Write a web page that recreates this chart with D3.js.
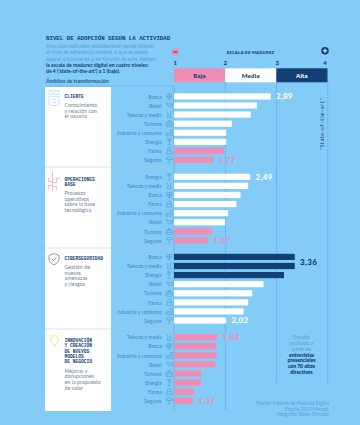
<!DOCTYPE html>
<html><head><meta charset="utf-8">
<script src="https://cdnjs.cloudflare.com/ajax/libs/d3/7.8.5/d3.min.js"></script>
<style>html,body{margin:0;padding:0;background:#82CCF7}svg{display:block}</style></head>
<body><div id="c"></div>
<script>
const clienteSectors=["Banca","Retail","Telecos y media","Turismo","Industria y consumo","Energía","Farma","Seguros"];
const clienteValues=[2.89,2.62,2.50,2.13,2.02,2.02,1.98,1.77];
const operacionesSectors=["Energía","Telecos y media","Banca","Farma","Industria y consumo","Retail","Turismo","Seguros"];
const operacionesValues=[2.49,2.45,2.30,2.22,2.06,2.00,1.74,1.67];
const cyberSectors=["Banca","Telecos y media","Energía","Retail","Turismo","Farma","Industria y consumo","Seguros"];
const cyberValues=[3.36,3.36,3.15,2.75,2.53,2.45,2.36,2.02];
const innovacionSectors=["Telecos y media","Banca","Industria y consumo","Retail","Turismo","Energía","Farma","Seguros"];
const innovacionValues=[1.84,1.83,1.83,1.81,1.54,1.53,1.40,1.37];
const scaleTicks=[1,2,3,4];
const bandNames=["Baja","Media","Alta"];
const blockTitles=[["CLIENTE"],["OPERACIONES","BASE"],["CIBERSEGURIDAD"],["INNOVACIÓN","Y CREACIÓN","DE NUEVOS","MODELOS","DE NEGOCIO"]];
const blockTexts=[["Conocimiento","y relación con","el usuario"],["Procesos","operativos","sobre la base","tecnológica"],["Gestión de","nuevas","amenazas","y riesgos"],["Mejoras y","disrupciones","en la propuesta","de valor"]];
const introLines=["Para cada indicador, establecieron desde Minsait","el nivel de adherencia mínimo al que se puede","aspirar actualmente y, en función de este, definen"];
const introBold=["la escala de madurez digital en cuatro niveles:","de 4 ('state-of-the-art') a 1 (bajo)."];
const studyLines=["Estudio","realizado a","partir de"];
const studyBold=["entrevistas","presenciales","con 70 altos","directivos"];
const sourceLines=["Fuente: Informe de Madurez Digital","España 2019 Minsait.","Infografía: Belén Trincado"];

const W=360,H=425,NAVY="#123F74",PINK="#F08DB4",WHITE="#FFFFFF",MID="#4A8FCB",LINE="#5DA8E0";
const SANS="Lato,'Open Sans',sans-serif",MONO="'Liberation Mono','DejaVu Sans Mono',monospace";
const svg=d3.select("#c").append("svg").attr("width",W).attr("height",H);
svg.append("rect").attr("width",W).attr("height",H).attr("fill","#82CCF7");
const x=d3.scaleLinear().domain([1,4]).range([174,327.5]);
const colorOf=v=>v>=3?NAVY:v>=2?WHITE:PINK;

function txt(g,s,xx,y,o={}){return g.append("text").attr("x",xx).attr("y",y).text(s)
 .attr("font-family",o.f||SANS).attr("font-size",o.s||5).attr("font-weight",o.w||400)
 .attr("fill",o.c||MID).attr("text-anchor",o.a||"start").attr("letter-spacing",o.l||0);}

// header
txt(svg,"NIVEL DE ADOPCIÓN SEGÚN LA ACTIVIDAD",46,39.5,{f:MONO,s:5.75,w:700,c:NAVY});
introLines.forEach((t,i)=>txt(svg,t,46,48+i*6.3,{s:5.1,c:"#5A9FD8"}));
introBold.forEach((t,i)=>txt(svg,t,46,66.9+i*6.3,{s:5.1,w:700,c:NAVY}));
txt(svg,"Ámbitos de transformación",46,82.6,{s:5.2,w:700,c:"#1F5A92"});

// scale head
svg.append("circle").attr("cx",175.3).attr("cy",52).attr("r",3.8).attr("fill",PINK);
svg.append("rect").attr("x",173.3).attr("y",51.5).attr("width",4).attr("height",1).attr("fill",NAVY);
svg.append("circle").attr("cx",325).attr("cy",50.8).attr("r",3.8).attr("fill",NAVY);
svg.append("path").attr("d","M322.8 50.8h4.4M325 48.6v4.4").attr("stroke","#fff").attr("stroke-width",1);
txt(svg,"ESCALA DE MADUREZ",250.5,53.8,{s:4.3,w:900,c:NAVY,a:"middle",l:0.15});
const tickShift=[1.3,0,1,-2.5];
scaleTicks.forEach((t,i)=>txt(svg,t,x(t)+tickShift[i],64.5,{s:6,w:900,c:NAVY,a:"middle"}));
const bandEdges=[1,2,3,4],bandFill=[PINK,WHITE,NAVY],bandText=[NAVY,NAVY,WHITE];
bandNames.forEach((n,i)=>{
 svg.append("rect").attr("x",x(bandEdges[i])).attr("y",68.3).attr("width",x(bandEdges[i+1])-x(bandEdges[i])).attr("height",14).attr("fill",bandFill[i]);
 txt(svg,n,(x(bandEdges[i])+x(bandEdges[i+1]))/2,77.7,{s:6,w:900,c:bandText[i],a:"middle",l:0.2});
});

// grid
[[2,82,410],[3,82,383],[4,82,383]].forEach(([v,a,b])=>svg.append("line").attr("x1",x(v)+.3).attr("x2",x(v)+.3).attr("y1",a).attr("y2",b).attr("stroke",LINE).attr("stroke-width",.6));
svg.append("line").attr("x1",174).attr("x2",174).attr("y1",87).attr("y2",410).attr("stroke",LINE).attr("stroke-width",.7);
svg.append("line").attr("x1",46).attr("x2",174).attr("y1",86).attr("y2",86).attr("stroke",LINE).attr("stroke-width",.5);

// panel
svg.append("rect").attr("x",45).attr("y",87).attr("width",66).attr("height",324).attr("fill",WHITE);
[167,248,329].forEach(y=>{
 svg.append("line").attr("x1",45).attr("x2",174).attr("y1",y).attr("y2",y).attr("stroke","#B7C4D4").attr("stroke-width",.5);
});

const blocks=[
 {sectors:clienteSectors,values:clienteValues,y0:96.4,titleY:98,bodyY:107,labels:[0,7]},
 {sectors:operacionesSectors,values:operacionesValues,y0:176.8,titleY:180.5,bodyY:195,labels:[0,7]},
 {sectors:cyberSectors,values:cyberValues,y0:256.9,titleY:260,bodyY:269,labels:[1,7]},
 {sectors:innovacionSectors,values:innovacionValues,y0:337.2,titleY:342,bodyY:372.7,labels:[0,7]}
];
const fmt=v=>v.toFixed(2).replace(".",",");

// small sector icons
const icons={
 "Banca":"M-2.5-2.5h5v2.5h-5zM-2.5 0l2.5 3 2.5-3M0-2.5v5.5",
 "Retail":"M-3-2.5h1l1 3.5h4l.7-2.5h-5.2M-1 2.6h.3M2 2.6h.3",
 "Telecos y media":"M-2-3l1 3-1 3M2-3l-1 3 1 3M-2 3h4",
 "Turismo":"M-3-1h6v4h-6zM-1-1v-2h2v2M-3 1h6",
 "Industria y consumo":"M-3 3v-3l2 1.3v-1.3l2 1.3v-4h2v5.7z",
 "Energía":"M-2.5-3h5M-2-1h4M0-3v6M-1.5 3h3",
 "Farma":"M-3 3l2-6h2l2 6zM-2 0h4",
 "Seguros":"M-3-.5a3 2.8 0 0 1 6 0zM0-.5v3a.8.8 0 0 1-1.6 0"
};
const sy=d3.scaleLinear().domain([0,7]);
blocks.forEach((b,bi)=>{
 const y=sy.copy().range([b.y0,b.y0+63.6]);
 const g=svg.append("g");
 g.selectAll("rect").data(b.values).join("rect")
  .attr("x",x(1)).attr("y",(d,i)=>y(i)-3.1).attr("width",d=>x(d)-x(1)).attr("height",6.2).attr("fill",colorOf);
 b.sectors.forEach((s,i)=>{
  txt(g,s,161.8,y(i)+2.2,{s:5,c:"#3F87C6",a:"end",l:.05});
  g.append("path").attr("transform",`translate(169.2,${y(i)})`).attr("d",icons[s]).attr("fill","none").attr("stroke","#3F87C6").attr("stroke-width",.45);
 });
 b.labels.forEach(i=>{
  const v=b.values[i],c=colorOf(v);
  txt(g,fmt(v),x(v)+5.2,y(i)+(bi==2&&i==1?-1:2.9),{s:8,w:900,c,l:.35});
 });
 blockTitles[bi].forEach((t,k)=>txt(svg,t,64.5,b.titleY+k*5.35,{f:MONO,s:4.6,w:700,c:NAVY}));
 blockTexts[bi].forEach((t,k)=>txt(svg,t,64.5,b.bodyY+k*5.7,{s:5.2,c:"#6F7C94",l:.08}));
});

// panel icons
const ic=svg.append("g").attr("fill","none").attr("stroke-width",.6);
ic.append("path").attr("transform","translate(54,97.5)").attr("stroke","#9ED6F8").attr("d","M-5-7h4v4h-4zM1-7h4v4h-4zM-5-1h10v7a2 2 0 0 1-2 2h-6a2 2 0 0 1-2-2zM-2 2h4M-2 5h4");
ic.append("path").attr("transform","translate(53.5,181.5)").attr("stroke","#F08DB4").attr("d","M-1-10v3M-1-7v17M-5-3v3h4M3-3v4h-4M-6-3h2M2-3h4M-1 4h-4v4M-1 5h4v4");
ic.append("path").attr("transform","translate(54,259)").attr("stroke","#3A5580").attr("d","M0-5.5l5 2v3.5c0 3-2.5 4.5-5 6c-2.5-1.5-5-3-5-6v-3.5zM-2 0l1.5 1.5 3-3");
ic.append("path").attr("transform","translate(54.5,341)").attr("stroke","#E8EA56").attr("stroke-width",.8).attr("d","M-1.6 3.5c0-1.8-2.4-2.6-2.4-5a4 4 0 0 1 8 0c0 2.4-2.4 3.2-2.4 5zM-1.2 5h2.4M-5.5-6l1 1M5.5-6l-1 1");

// side text
txt(svg,"'State-of-the-art'",0,0,{f:MONO,s:4.9,c:NAVY,a:"middle"}).attr("transform","translate(323.5,124) rotate(-90)");
studyLines.forEach((t,i)=>txt(svg,t,301.5,339.4+i*5.7,{s:5,c:"#5A9FD8",a:"middle"}));
studyBold.forEach((t,i)=>txt(svg,t,301.5,356.5+i*5.7,{s:5,w:800,c:NAVY,a:"middle"}));
sourceLines.forEach((t,i)=>txt(svg,t,329,405.3+i*5.3,{s:4.7,c:"#5A9FD8",a:"end"}));
</script></body></html>
